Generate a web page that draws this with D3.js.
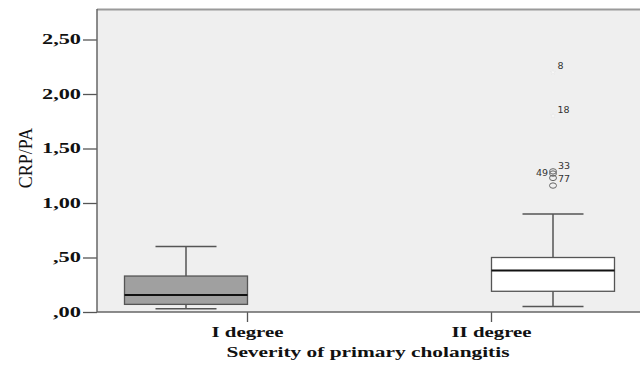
<!DOCTYPE html>
<html>
<head>
<meta charset="utf-8">
<script src="https://cdn.jsdelivr.net/npm/d3@7/dist/d3.min.js"></script>
<style>
  html, body { margin: 0; padding: 0; background: #fff; }
  svg { display: block; }
</style>
</head>
<body>
<svg id="chart" width="640" height="365"></svg>
<script>
// Groups and their box-plot summaries (CRP/PA)
const categories = ["I degree", "II degree"];
const q1      = [0.07, 0.19];
const medians = [0.155, 0.38];
const q3      = [0.33, 0.50];
const whiskLo = [0.03, 0.05];
const whiskHi = [0.60, 0.90];

// Outliers of the II degree group: circles (mild) and stars (extreme)
const outlierValues = [1.29, 1.27, 1.23, 1.16];
const outlierLabels = ["33", "49", "77", ""];
const extremeValues = [2.20, 1.80];
const extremeLabels = ["8", "18"];

const yTicks = [0, 0.5, 1.0, 1.5, 2.0, 2.5];
const yTickLabels = [",00", ",50", "1,00", "1,50", "2,00", "2,50"];

const svg = d3.select("#chart");
const plotL = 97, plotT = 9, plotB = 312, plotR = 642;

const y = d3.scaleLinear().domain([0, 2.5]).range([plotB, 39.5]);
// category axis ticks
const xTick = d3.scalePoint().domain(categories).range([247, 491]);
// box positions
const xBox = d3.scalePoint().domain(categories).range([186, 553]);
const boxW = 123, capW = 61;

// plot background
svg.append("rect").attr("x", plotL).attr("y", plotT)
  .attr("width", plotR - plotL).attr("height", plotB - plotT)
  .attr("fill", "#efefef");
svg.append("line").attr("x1", plotL).attr("x2", plotR).attr("y1", plotT + 0.5).attr("y2", plotT + 0.5)
  .attr("stroke", "#9a9a9a").attr("stroke-width", 2);

// y axis
const yAxis = d3.axisLeft(y).tickValues(yTicks)
  .tickFormat((d, i) => yTickLabels[i]).tickSize(14).tickPadding(2);
const gy = svg.append("g").attr("transform", `translate(${plotL},0)`).call(yAxis);
gy.select(".domain").remove();
gy.selectAll(".tick line").attr("stroke", "#555").attr("stroke-width", 1.3);
gy.selectAll(".tick text").attr("fill", "#111")
  .style("font-family", "'Liberation Serif', 'Times New Roman', serif")
  .style("font-weight", "bold").style("font-size", "14px")
  .attr("textLength", function() { return this.textContent.length === 4 ? 39 : 28; })
  .attr("lengthAdjust", "spacingAndGlyphs");
svg.append("line").attr("x1", plotL).attr("x2", plotL).attr("y1", plotT).attr("y2", plotB)
  .attr("stroke", "#666").attr("stroke-width", 1.5);

// x axis
const xAxis = d3.axisBottom(xTick).tickSize(10).tickPadding(4).tickFormat(d => d);
const gx = svg.append("g").attr("transform", `translate(0,${plotB})`).call(xAxis);
gx.select(".domain").remove();
gx.selectAll(".tick line").attr("stroke", "#555").attr("stroke-width", 1.3);
gx.selectAll(".tick text").attr("fill", "#111")
  .style("font-family", "'Liberation Serif', 'Times New Roman', serif")
  .style("font-weight", "bold").style("font-size", "15px")
  .attr("textLength", (d, i) => i === 0 ? 72 : 80)
  .attr("lengthAdjust", "spacingAndGlyphs");
svg.append("line").attr("x1", plotL).attr("x2", plotR).attr("y1", plotB).attr("y2", plotB)
  .attr("stroke", "#666").attr("stroke-width", 1.5);

// axis titles
svg.append("text").attr("x", 368).attr("y", 357).attr("text-anchor", "middle")
  .attr("fill", "#111")
  .style("font-family", "'Liberation Serif', 'Times New Roman', serif")
  .style("font-weight", "bold").style("font-size", "15px")
  .attr("textLength", 283).attr("lengthAdjust", "spacingAndGlyphs")
  .text("Severity of primary cholangitis");
svg.append("text").attr("transform", "translate(32,158) rotate(-90)")
  .attr("text-anchor", "middle").attr("fill", "#111")
  .style("font-family", "'Liberation Serif', 'Times New Roman', serif")
  .style("font-size", "18px")
  .text("CRP/PA");

// boxes
const fills = ["#a0a0a0", "#ffffff"];
const stroke = "#555";
categories.forEach((c, i) => {
  const cx = xBox(c);
  const g = svg.append("g");
  // whisker stems
  g.append("line").attr("x1", cx).attr("x2", cx).attr("y1", y(q3[i])).attr("y2", y(whiskHi[i]))
    .attr("stroke", stroke).attr("stroke-width", 1.5);
  g.append("line").attr("x1", cx).attr("x2", cx).attr("y1", y(q1[i])).attr("y2", y(whiskLo[i]))
    .attr("stroke", stroke).attr("stroke-width", 1.5);
  // caps
  [whiskHi[i], whiskLo[i]].forEach(v => {
    g.append("line").attr("x1", cx - capW / 2).attr("x2", cx + capW / 2)
      .attr("y1", y(v)).attr("y2", y(v)).attr("stroke", stroke).attr("stroke-width", 1.5);
  });
  // box
  g.append("rect").attr("x", cx - boxW / 2).attr("y", y(q3[i]))
    .attr("width", boxW).attr("height", y(q1[i]) - y(q3[i]))
    .attr("fill", fills[i]).attr("stroke", stroke).attr("stroke-width", 1.3);
  // median
  g.append("line").attr("x1", cx - boxW / 2).attr("x2", cx + boxW / 2)
    .attr("y1", y(medians[i])).attr("y2", y(medians[i]))
    .attr("stroke", "#111").attr("stroke-width", 2);
});

// outliers (II degree)
const ox = xBox(categories[1]);
svg.append("g").selectAll("ellipse").data(outlierValues).join("ellipse")
  .attr("cx", ox).attr("cy", d => y(d)).attr("rx", 3.5).attr("ry", 2.7)
  .attr("fill", "none").attr("stroke", "#666").attr("stroke-width", 1);
svg.append("g").selectAll("path").data(extremeValues).join("path")
  .attr("transform", d => `translate(${ox},${y(d)})`)
  .attr("d", d3.symbol(d3.symbolStar, 8))
  .attr("fill", "#fafafa").attr("stroke", "#e4e4e4").attr("stroke-width", 0.5);

const labelFont = "'DejaVu Sans', Arial, sans-serif";
// labels for outliers: 33 right above, 49 left, 77 right
const oLab = svg.append("g").style("font-family", labelFont).style("font-size", "9.5px").attr("fill", "#333");
oLab.append("text").attr("x", ox + 5).attr("y", y(outlierValues[0]) - 2).text(outlierLabels[0]);
oLab.append("text").attr("x", ox - 5).attr("y", y(outlierValues[1]) + 2).attr("text-anchor", "end").text(outlierLabels[1]);
oLab.append("text").attr("x", ox + 5).attr("y", y(outlierValues[2]) + 4).text(outlierLabels[2]);
extremeValues.forEach((v, i) => {
  oLab.append("text").attr("x", ox + 4.5).attr("y", y(v) - 3).text(extremeLabels[i]);
});
</script>
</body>
</html>
